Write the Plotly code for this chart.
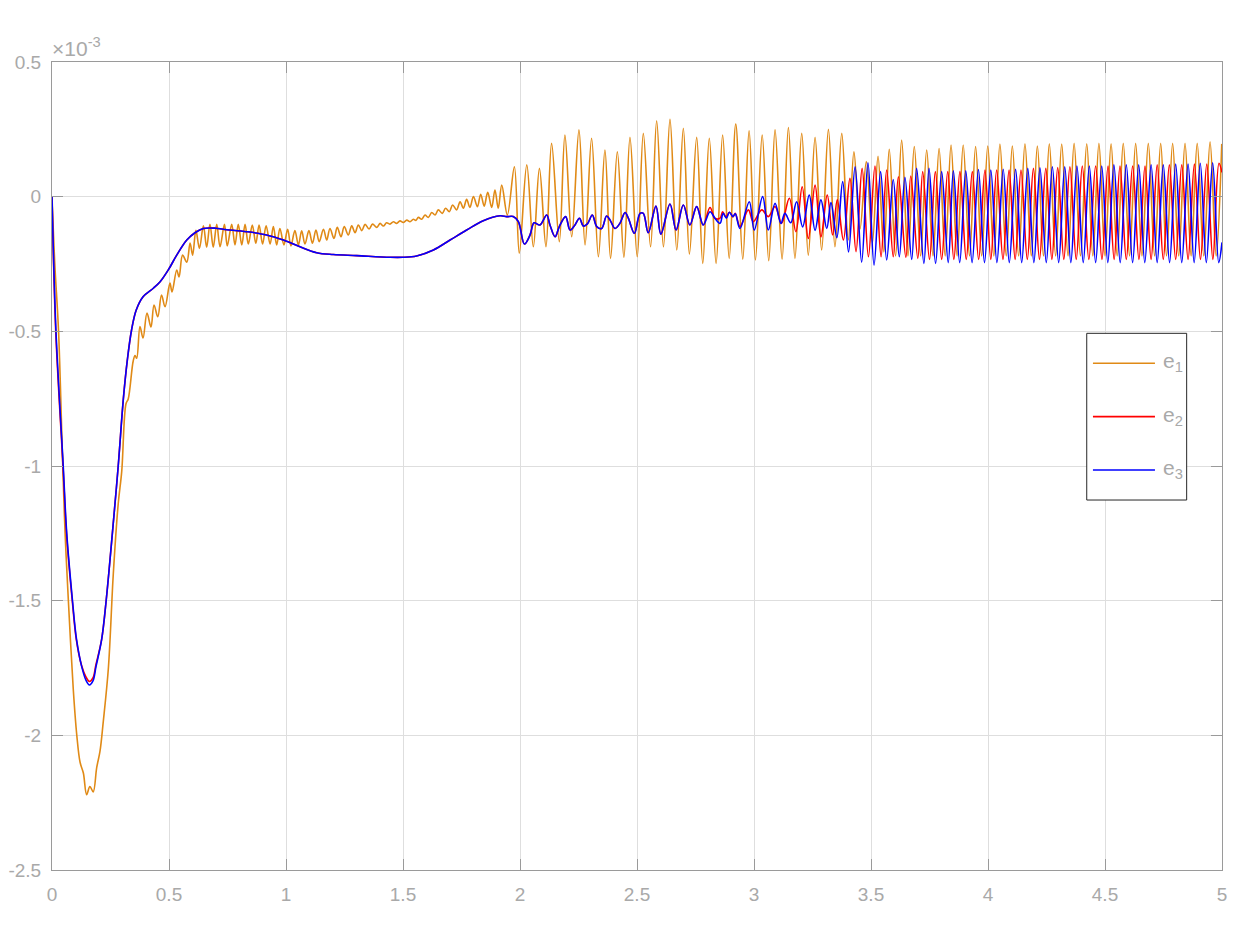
import plotly.graph_objects as go

# Tracking errors e1, e2, e3 (values in units of 1e-3).
# Each list holds (time, value) samples; oscillating parts are given by their peaks/troughs.

e1_pts = [
    (0.000, 0.000), (0.012, -0.25), (0.028, -0.50), (0.046, -1.00), (0.056, -1.25),
    (0.070, -1.50), (0.091, -1.83), (0.106, -2.00), (0.120, -2.10), (0.134, -2.14),
    (0.148, -2.22), (0.162, -2.19), (0.176, -2.21), (0.191, -2.12), (0.205, -2.06),
    (0.219, -1.95), (0.241, -1.75), (0.262, -1.40), (0.283, -1.14), (0.298, -1.02),
    (0.316, -0.77), (0.326, -0.75), (0.347, -0.61), (0.355, -0.59), (0.362, -0.60),
    (0.376, -0.482), (0.389, -0.525), (0.406, -0.432), (0.423, -0.484), (0.436, -0.402),
    (0.452, -0.446), (0.468, -0.365), (0.483, -0.409), (0.504, -0.321), (0.513, -0.354),
    (0.533, -0.272), (0.543, -0.298), (0.558, -0.217), (0.576, -0.243), (0.590, -0.172),
    (0.601, -0.217), (0.615, -0.125), (0.630, -0.192), (0.647, -0.108), (0.661, -0.188),
    (0.675, -0.103), (0.689, -0.188), (0.704, -0.103), (0.718, -0.186), (0.737, -0.103),
    (0.749, -0.183), (0.768, -0.103), (0.782, -0.179), (0.796, -0.103), (0.811, -0.179),
    (0.825, -0.103), (0.839, -0.176), (0.856, -0.105), (0.871, -0.173), (0.885, -0.105),
    (0.900, -0.176), (0.915, -0.108), (0.932, -0.176), (0.946, -0.111), (0.960, -0.179),
    (0.974, -0.118), (0.991, -0.179), (1.007, -0.121), (1.021, -0.183), (1.038, -0.126),
    (1.053, -0.179), (1.067, -0.127), (1.081, -0.176), (1.098, -0.126), (1.113, -0.173),
    (1.128, -0.124), (1.142, -0.167), (1.160, -0.121), (1.174, -0.161), (1.188, -0.118),
    (1.205, -0.155), (1.219, -0.114), (1.235, -0.149), (1.249, -0.111), (1.266, -0.142),
    (1.281, -0.108), (1.295, -0.134), (1.309, -0.105), (1.324, -0.126), (1.338, -0.103),
    (1.355, -0.120), (1.370, -0.102), (1.388, -0.114), (1.402, -0.099), (1.416, -0.109),
    (1.430, -0.097), (1.444, -0.102), (1.459, -0.093), (1.473, -0.099), (1.487, -0.090),
    (1.501, -0.096), (1.516, -0.087), (1.530, -0.093), (1.544, -0.084), (1.555, -0.088),
    (1.566, -0.077), (1.580, -0.084), (1.594, -0.068), (1.608, -0.077), (1.623, -0.059),
    (1.637, -0.068), (1.651, -0.049), (1.668, -0.062), (1.682, -0.043), (1.698, -0.056),
    (1.712, -0.031), (1.729, -0.049), (1.744, -0.019), (1.758, -0.043), (1.772, -0.010),
    (1.786, -0.040), (1.801, 0.000), (1.818, -0.037), (1.832, 0.009), (1.847, -0.035),
    (1.862, 0.016), (1.879, -0.040), (1.893, 0.025), (1.907, -0.043), (1.922, 0.043),
    (1.946, -0.068), (1.976, 0.111), (1.997, -0.210), (2.029, 0.118), (2.057, -0.186),
    (2.083, 0.105), (2.111, -0.186), (2.135, 0.198), (2.168, -0.167), (2.192, 0.229),
    (2.221, -0.149), (2.252, 0.248), (2.278, -0.179), (2.306, 0.217), (2.335, -0.223),
    (2.363, 0.173), (2.387, -0.229), (2.416, 0.167), (2.444, -0.225), (2.470, 0.220),
    (2.501, -0.223), (2.527, 0.235), (2.558, -0.186), (2.584, 0.282), (2.613, -0.186),
    (2.641, 0.287), (2.670, -0.198), (2.698, 0.254), (2.724, -0.213), (2.755, 0.220),
    (2.781, -0.248), (2.809, 0.217), (2.838, -0.248), (2.866, 0.229), (2.894, -0.229),
    (2.922, 0.270), (2.952, -0.232), (2.979, 0.245), (3.006, -0.235), (3.035, 0.229),
    (3.063, -0.238), (3.090, 0.248), (3.120, -0.232), (3.147, 0.257), (3.175, -0.229),
    (3.204, 0.235), (3.232, -0.217), (3.261, 0.220), (3.289, -0.198), (3.318, 0.250),
    (3.346, -0.186), (3.375, 0.235), (3.403, -0.161), (3.427, 0.167), (3.453, -0.120),
    (3.480, 0.130), (3.506, -0.170), (3.530, 0.150), (3.555, -0.205), (3.578, 0.176),
    (3.605, -0.220), (3.631, 0.210), (3.658, -0.220), (3.685, 0.186), (3.712, -0.220),
    (3.738, 0.173), (3.765, -0.220), (3.791, 0.179), (3.817, -0.220), (3.842, 0.192),
    (3.868, -0.220), (3.894, 0.192), (3.921, -0.220), (3.947, 0.186), (3.973, -0.220),
    (3.999, 0.188), (4.025, -0.220), (4.051, 0.195), (4.078, -0.220), (4.104, 0.188),
    (4.131, -0.220), (4.158, 0.196), (4.185, -0.220), (4.211, 0.188), (4.237, -0.220),
    (4.262, 0.196), (4.289, -0.220), (4.315, 0.195), (4.342, -0.220), (4.368, 0.198),
    (4.395, -0.220), (4.422, 0.196), (4.448, -0.220), (4.474, 0.198), (4.500, -0.220),
    (4.526, 0.196), (4.552, -0.220), (4.578, 0.198), (4.605, -0.220), (4.631, 0.198),
    (4.658, -0.220), (4.685, 0.198), (4.712, -0.220), (4.738, 0.198), (4.763, -0.220),
    (4.789, 0.198), (4.815, -0.220), (4.842, 0.198), (4.868, -0.220), (4.894, 0.198),
    (4.922, -0.220), (4.949, 0.204), (4.975, -0.220), (4.999, 0.196),
]

e2_head = [
    (0.000, 0.000), (0.016, -0.50), (0.047, -1.00), (0.062, -1.25), (0.087, -1.504),
    (0.104, -1.645), (0.126, -1.740), (0.145, -1.783), (0.160, -1.800), (0.175, -1.787),
    (0.188, -1.737),
]

e3_head = [
    (0.000, 0.000), (0.017, -0.50), (0.048, -1.00), (0.063, -1.25), (0.088, -1.504),
    (0.105, -1.645), (0.127, -1.745), (0.145, -1.795), (0.160, -1.813), (0.175, -1.798),
    (0.188, -1.745),
]

# part where e2 and e3 coincide
e23_mid = [
    (0.212, -1.645), (0.231, -1.504), (0.258, -1.25), (0.283, -1.00), (0.305, -0.75),
    (0.322, -0.606), (0.340, -0.495), (0.360, -0.421), (0.390, -0.371), (0.433, -0.340),
    (0.462, -0.316), (0.497, -0.272), (0.533, -0.217), (0.576, -0.161), (0.611, -0.134),
    (0.647, -0.118), (0.700, -0.117), (0.732, -0.121), (0.832, -0.130), (0.917, -0.142),
    (0.989, -0.161), (1.060, -0.186), (1.131, -0.208), (1.202, -0.215), (1.302, -0.219),
    (1.444, -0.225), (1.500, -0.225), (1.558, -0.220), (1.630, -0.198), (1.701, -0.161),
    (1.772, -0.124), (1.843, -0.089), (1.915, -0.071), (1.943, -0.074), (1.971, -0.074),
    (1.993, -0.093), (2.019, -0.176), (2.043, -0.142), (2.060, -0.097), (2.085, -0.105),
    (2.114, -0.068), (2.128, -0.105), (2.150, -0.149), (2.168, -0.111), (2.195, -0.074),
    (2.214, -0.124), (2.235, -0.105), (2.254, -0.080), (2.271, -0.109), (2.288, -0.101),
    (2.309, -0.068), (2.328, -0.111), (2.349, -0.118), (2.370, -0.072), (2.385, -0.087),
    (2.406, -0.118), (2.427, -0.099), (2.449, -0.059), (2.463, -0.080), (2.489, -0.136),
    (2.513, -0.062), (2.527, -0.062), (2.548, -0.134), (2.581, -0.035), (2.602, -0.139),
    (2.641, -0.027), (2.667, -0.124), (2.698, -0.031), (2.726, -0.105), (2.755, -0.037),
    (2.783, -0.105),
]

e2_tail = [
    (2.812, -0.040), (2.833, -0.080), (2.855, -0.080), (2.866, -0.056), (2.880, -0.075),
    (2.895, -0.058), (2.910, -0.075), (2.920, -0.062), (2.940, -0.111), (2.976, -0.049),
    (2.997, -0.093), (3.033, -0.049), (3.061, -0.074), (3.090, -0.037), (3.118, -0.099),
    (3.151, -0.006), (3.179, -0.130), (3.206, 0.037), (3.232, -0.155), (3.261, 0.043),
    (3.286, -0.149), (3.313, 0.006), (3.336, -0.142), (3.356, -0.012), (3.382, -0.161),
    (3.410, 0.068), (3.436, -0.204), (3.462, 0.105), (3.489, -0.223), (3.517, 0.114),
    (3.543, -0.223), (3.567, 0.099), (3.595, -0.223), (3.617, 0.074), (3.649, -0.225),
    (3.670, 0.077), (3.700, -0.229), (3.721, 0.093), (3.750, -0.233), (3.775, 0.093),
    (3.802, -0.233), (3.828, 0.093), (3.854, -0.233), (3.880, 0.093), (3.907, -0.233),
    (3.933, 0.093), (3.960, -0.233), (3.987, 0.099), (4.012, -0.233), (4.037, 0.099),
    (4.064, -0.233), (4.090, 0.099), (4.116, -0.233), (4.141, 0.099), (4.168, -0.233),
    (4.194, 0.105), (4.220, -0.233), (4.247, 0.105), (4.273, -0.233), (4.298, 0.108),
    (4.324, -0.233), (4.350, 0.111), (4.377, -0.233), (4.403, 0.114), (4.431, -0.233),
    (4.460, 0.114), (4.487, -0.233), (4.513, 0.114), (4.539, -0.233), (4.564, 0.114),
    (4.591, -0.233), (4.618, 0.114), (4.645, -0.233), (4.671, 0.114), (4.697, -0.233),
    (4.723, 0.118), (4.749, -0.233), (4.775, 0.118), (4.802, -0.233), (4.828, 0.118),
    (4.855, -0.233), (4.882, 0.121), (4.908, -0.233), (4.935, 0.121), (4.961, -0.233),
    (4.987, 0.124), (5.000, 0.090),
]

e3_tail = [
    (2.812, -0.056), (2.833, -0.080), (2.855, -0.099), (2.868, -0.062), (2.882, -0.080),
    (2.895, -0.058), (2.910, -0.074), (2.920, -0.064), (2.940, -0.118), (2.980, -0.019),
    (3.001, -0.124), (3.037, 0.000), (3.061, -0.124), (3.090, -0.025), (3.115, -0.099),
    (3.132, -0.062), (3.157, -0.097), (3.182, -0.019), (3.208, -0.112), (3.236, 0.006),
    (3.261, -0.125), (3.286, -0.012), (3.311, -0.118), (3.329, -0.022), (3.354, -0.152),
    (3.379, 0.056), (3.404, -0.205), (3.432, 0.111), (3.460, -0.243), (3.487, 0.126),
    (3.513, -0.254), (3.541, 0.093), (3.567, -0.235), (3.595, 0.064), (3.621, -0.223),
    (3.645, 0.072), (3.674, -0.233), (3.695, 0.105), (3.726, -0.248), (3.748, 0.105),
    (3.776, -0.248), (3.802, 0.093), (3.830, -0.245), (3.852, 0.096), (3.879, -0.245),
    (3.905, 0.096), (3.932, -0.245), (3.959, 0.101), (3.985, -0.245), (4.012, 0.099),
    (4.038, -0.245), (4.065, 0.102), (4.091, -0.245), (4.118, 0.102), (4.144, -0.245),
    (4.170, 0.105), (4.196, -0.245), (4.222, 0.107), (4.249, -0.245), (4.275, 0.111),
    (4.302, -0.245), (4.328, 0.111), (4.354, -0.245), (4.380, 0.114), (4.407, -0.245),
    (4.433, 0.114), (4.460, -0.245), (4.486, 0.114), (4.512, -0.245), (4.538, 0.118),
    (4.565, -0.245), (4.591, 0.118), (4.618, -0.245), (4.644, 0.118), (4.670, -0.245),
    (4.697, 0.118), (4.723, -0.245), (4.749, 0.118), (4.776, -0.245), (4.802, 0.121),
    (4.828, -0.245), (4.855, 0.121), (4.881, -0.245), (4.907, 0.124), (4.933, -0.245),
    (4.960, 0.126), (4.986, -0.245), (5.000, -0.170),
]

x_ticks = [0, 0.5, 1, 1.5, 2, 2.5, 3, 3.5, 4, 4.5, 5]
x_labels = ["0", "0.5", "1", "1.5", "2", "2.5", "3", "3.5", "4", "4.5", "5"]
y_ticks = [-2.5, -2, -1.5, -1, -0.5, 0, 0.5]
y_labels = ["-2.5", "-2", "-1.5", "-1", "-0.5", "0", "0.5"]

names = ["e<sub>1</sub>", "e<sub>2</sub>", "e<sub>3</sub>"]
colors = ["#E08A16", "#FF0000", "#0000FF"]

e1 = e1_pts
e2 = e2_head + e23_mid + e2_tail
e3 = e3_head + e23_mid + e3_tail

FONT = "Liberation Sans, Arial, Helvetica, sans-serif"
GRAY = "#a9a9a9"

fig = go.Figure()
for pts, nm, col in zip([e1, e2, e3], names, colors):
    fig.add_trace(go.Scatter(
        x=[p[0] for p in pts], y=[p[1] for p in pts], mode="lines", name=nm,
        line=dict(color=col, width=1.6, shape="spline", smoothing=1.0),
        showlegend=False,
    ))

axis_common = dict(
    showgrid=True, gridcolor="#dedede", gridwidth=1, zeroline=False,
    showline=True, linecolor="#9a9a9a", linewidth=1, mirror="ticks",
    ticks="inside", ticklen=11, tickcolor="#9a9a9a", tickwidth=1,
    tickfont=dict(family=FONT, size=19, color=GRAY), automargin=False,
)

fig.update_layout(
    width=1250, height=938,
    margin=dict(l=52, r=28, t=62, b=68, autoexpand=False),
    paper_bgcolor="white", plot_bgcolor="white",
    font=dict(family=FONT, color=GRAY),
    xaxis=dict(range=[0, 5], tickvals=x_ticks, ticktext=x_labels,
               ticklabelstandoff=7, **axis_common),
    yaxis=dict(range=[-2.5, 0.5], tickvals=y_ticks, ticktext=y_labels,
               ticklabelstandoff=6, **axis_common),
)

# exponent label
fig.add_annotation(xref="paper", yref="paper", x=0, y=1, xanchor="left", yanchor="bottom",
                   xshift=-2, yshift=0, text="×10<sup>-3</sup>", showarrow=False,
                   font=dict(family=FONT, size=21, color=GRAY))

# legend box (drawn in paper coordinates)
lx0, lx1, ly0, ly1 = 0.8844, 0.9698, 0.4579, 0.6642
fig.add_shape(type="rect", xref="paper", yref="paper", x0=lx0, x1=lx1, y0=ly0, y1=ly1,
              line=dict(color="#262626", width=1), fillcolor="white", layer="above")
ly = [0.6271, 0.5611, 0.4950]
for yy, nm, col in zip(ly, names, colors):
    fig.add_shape(type="line", xref="paper", yref="paper", x0=0.8897, x1=0.9427, y0=yy, y1=yy,
                  line=dict(color=col, width=1.6), layer="above")
    fig.add_annotation(xref="paper", yref="paper", x=0.9480, y=yy, xanchor="left",
                       yanchor="middle", yshift=1, text=nm, showarrow=False,
                       font=dict(family=FONT, size=21, color=GRAY))

fig.write_html("out.html")
